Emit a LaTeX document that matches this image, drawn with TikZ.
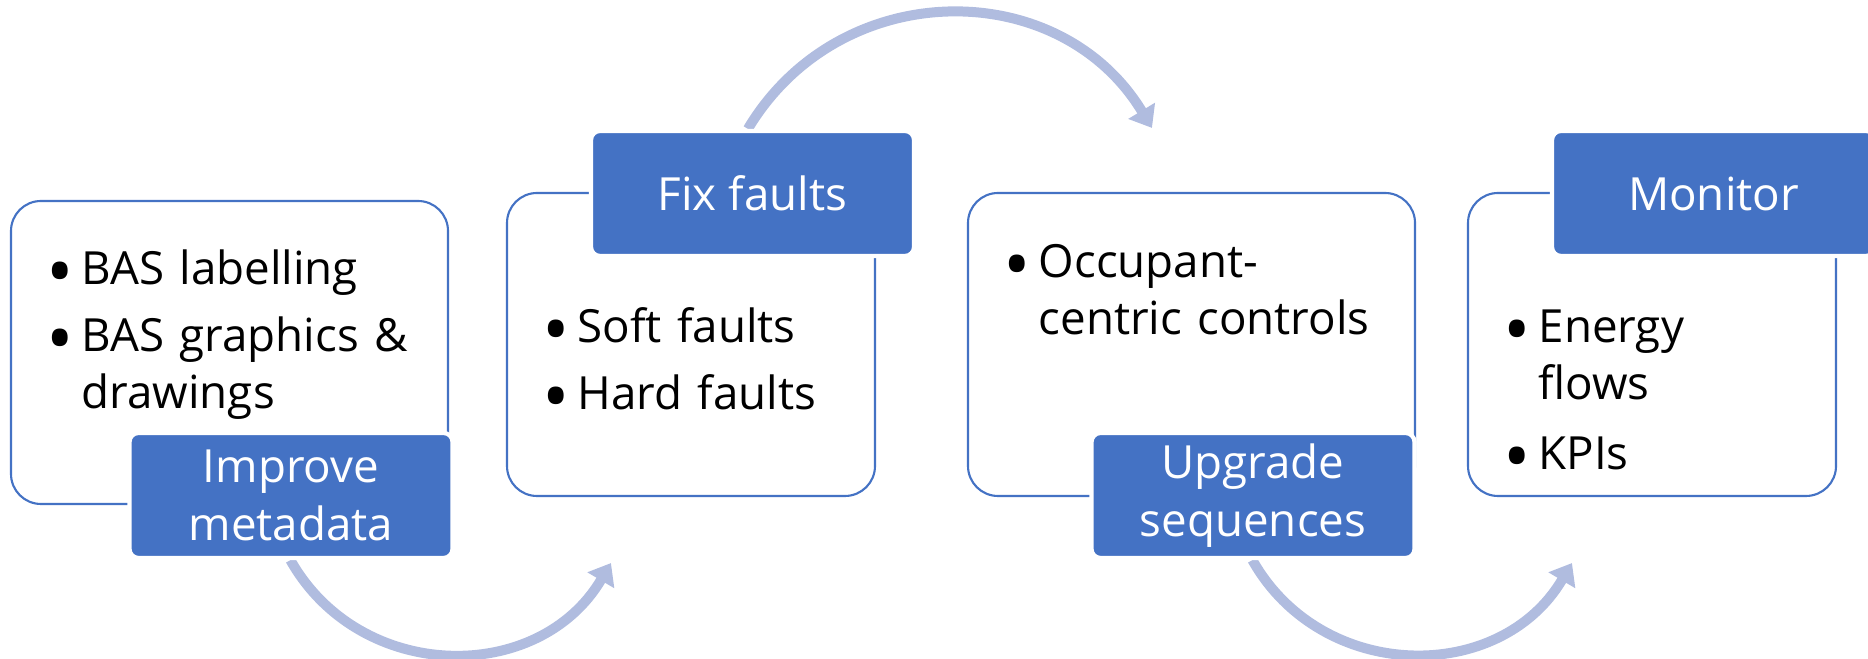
\documentclass[tikz,border=0pt]{standalone}
\usepackage{fontspec}
\setmainfont{Open Sans}
\usetikzlibrary{arrows.meta,backgrounds}
\definecolor{stageblue}{HTML}{4472C4}
\definecolor{flowgrey}{HTML}{B0BCDF}
% one bullet line, wrapped text hangs under the first word
\newcommand{\bitem}[1]{\par\noindent\strut
  \makebox[0.35cm][l]{\raisebox{-3.8pt}{\scalebox{1.6}{\textbullet}}}%
  \parbox[t]{3.8cm}{\raggedright\strut#1\strut}\par}
\tikzset{
  panel/.style={draw=stageblue,fill=white,line width=0.6pt,
                rounded corners=0.3cm,minimum height=3.03cm,inner sep=0pt},
  stage/.style={fill=stageblue,draw=white,line width=1.2pt,
                rounded corners=0.09cm,text=white,align=center,inner sep=0pt,
                minimum width=3.23cm,minimum height=1.25cm,
                font=\fontsize{13}{16.6}\selectfont},
  itemtext/.style={anchor=north west,text width=4.2cm,align=left,
                   inner sep=0pt,
                   font=\fontsize{13}{16.2}\selectfont\setlength{\parskip}{2.8pt}},
  flow/.style={-{Triangle[length=0.2cm,width=0.3cm]},line width=0.1cm,
               flowgrey,looseness=1.13},
}

\begin{document}
\begin{tikzpicture}
  \useasboundingbox (0,0) rectangle (18.68,6.59);
  % content panels
  \node[panel,minimum width=4.37cm] (p1) at (2.295,3.065) {};
  \node[panel,minimum width=3.68cm] (p2) at (6.91,3.145) {};
  \node[panel,minimum width=4.47cm] (p3) at (11.915,3.145) {};
  \node[panel,minimum width=3.68cm] (p4) at (16.52,3.145) {};
  % stage labels
  \node[stage] (s1) at (2.91,1.635) {Improve\\metadata};
  \node[stage] (s2) at (7.525,4.655) {Fix faults};
  \node[stage] (s3) at (12.53,1.635) {Upgrade\\sequences};
  \node[stage] (s4) at (17.135,4.655) {Monitor};
  % bullet text
  \node[itemtext] (t1) at ([xshift=0.36cm,yshift=-0.17cm]p1.north west)
    {\bitem{BAS labelling}\bitem{BAS graphics \&\newline drawings}};
  \node[itemtext] (t2) at ([xshift=0.36cm,yshift=-0.83cm]p2.north west)
    {\bitem{Soft faults}\bitem{Hard faults}};
  \node[itemtext] (t3) at ([xshift=0.36cm,yshift=-0.18cm]p3.north west)
    {\bitem{Occupant-\newline centric controls}};
  \node[itemtext] (t4) at ([xshift=0.36cm,yshift=-0.83cm]p4.north west)
    {\bitem{Energy\newline flows}\bitem{KPIs}};
  % arrow ends
  \coordinate (f1a) at ([xshift=1.63cm]s1.south west);
  \coordinate (f1b) at ([xshift=1.05cm,yshift=-0.66cm]p2.south west);
  \coordinate (f2a) at ([xshift=1.59cm]s2.north west);
  \coordinate (f2b) at ([xshift=1.85cm,yshift=0.64cm]p3.north west);
  \coordinate (f3a) at ([xshift=1.63cm]s3.south west);
  \coordinate (f3b) at ([xshift=1.05cm,yshift=-0.66cm]p4.south west);
  % curved arrows
  \begin{scope}[on background layer]
    \draw[flow] (f1a) to[bend right=60] (f1b);
    \draw[flow] (f2a) to[bend left=59] (f2b);
    \draw[flow] (f3a) to[bend right=60] (f3b);
  \end{scope}
\end{tikzpicture}
\end{document}
